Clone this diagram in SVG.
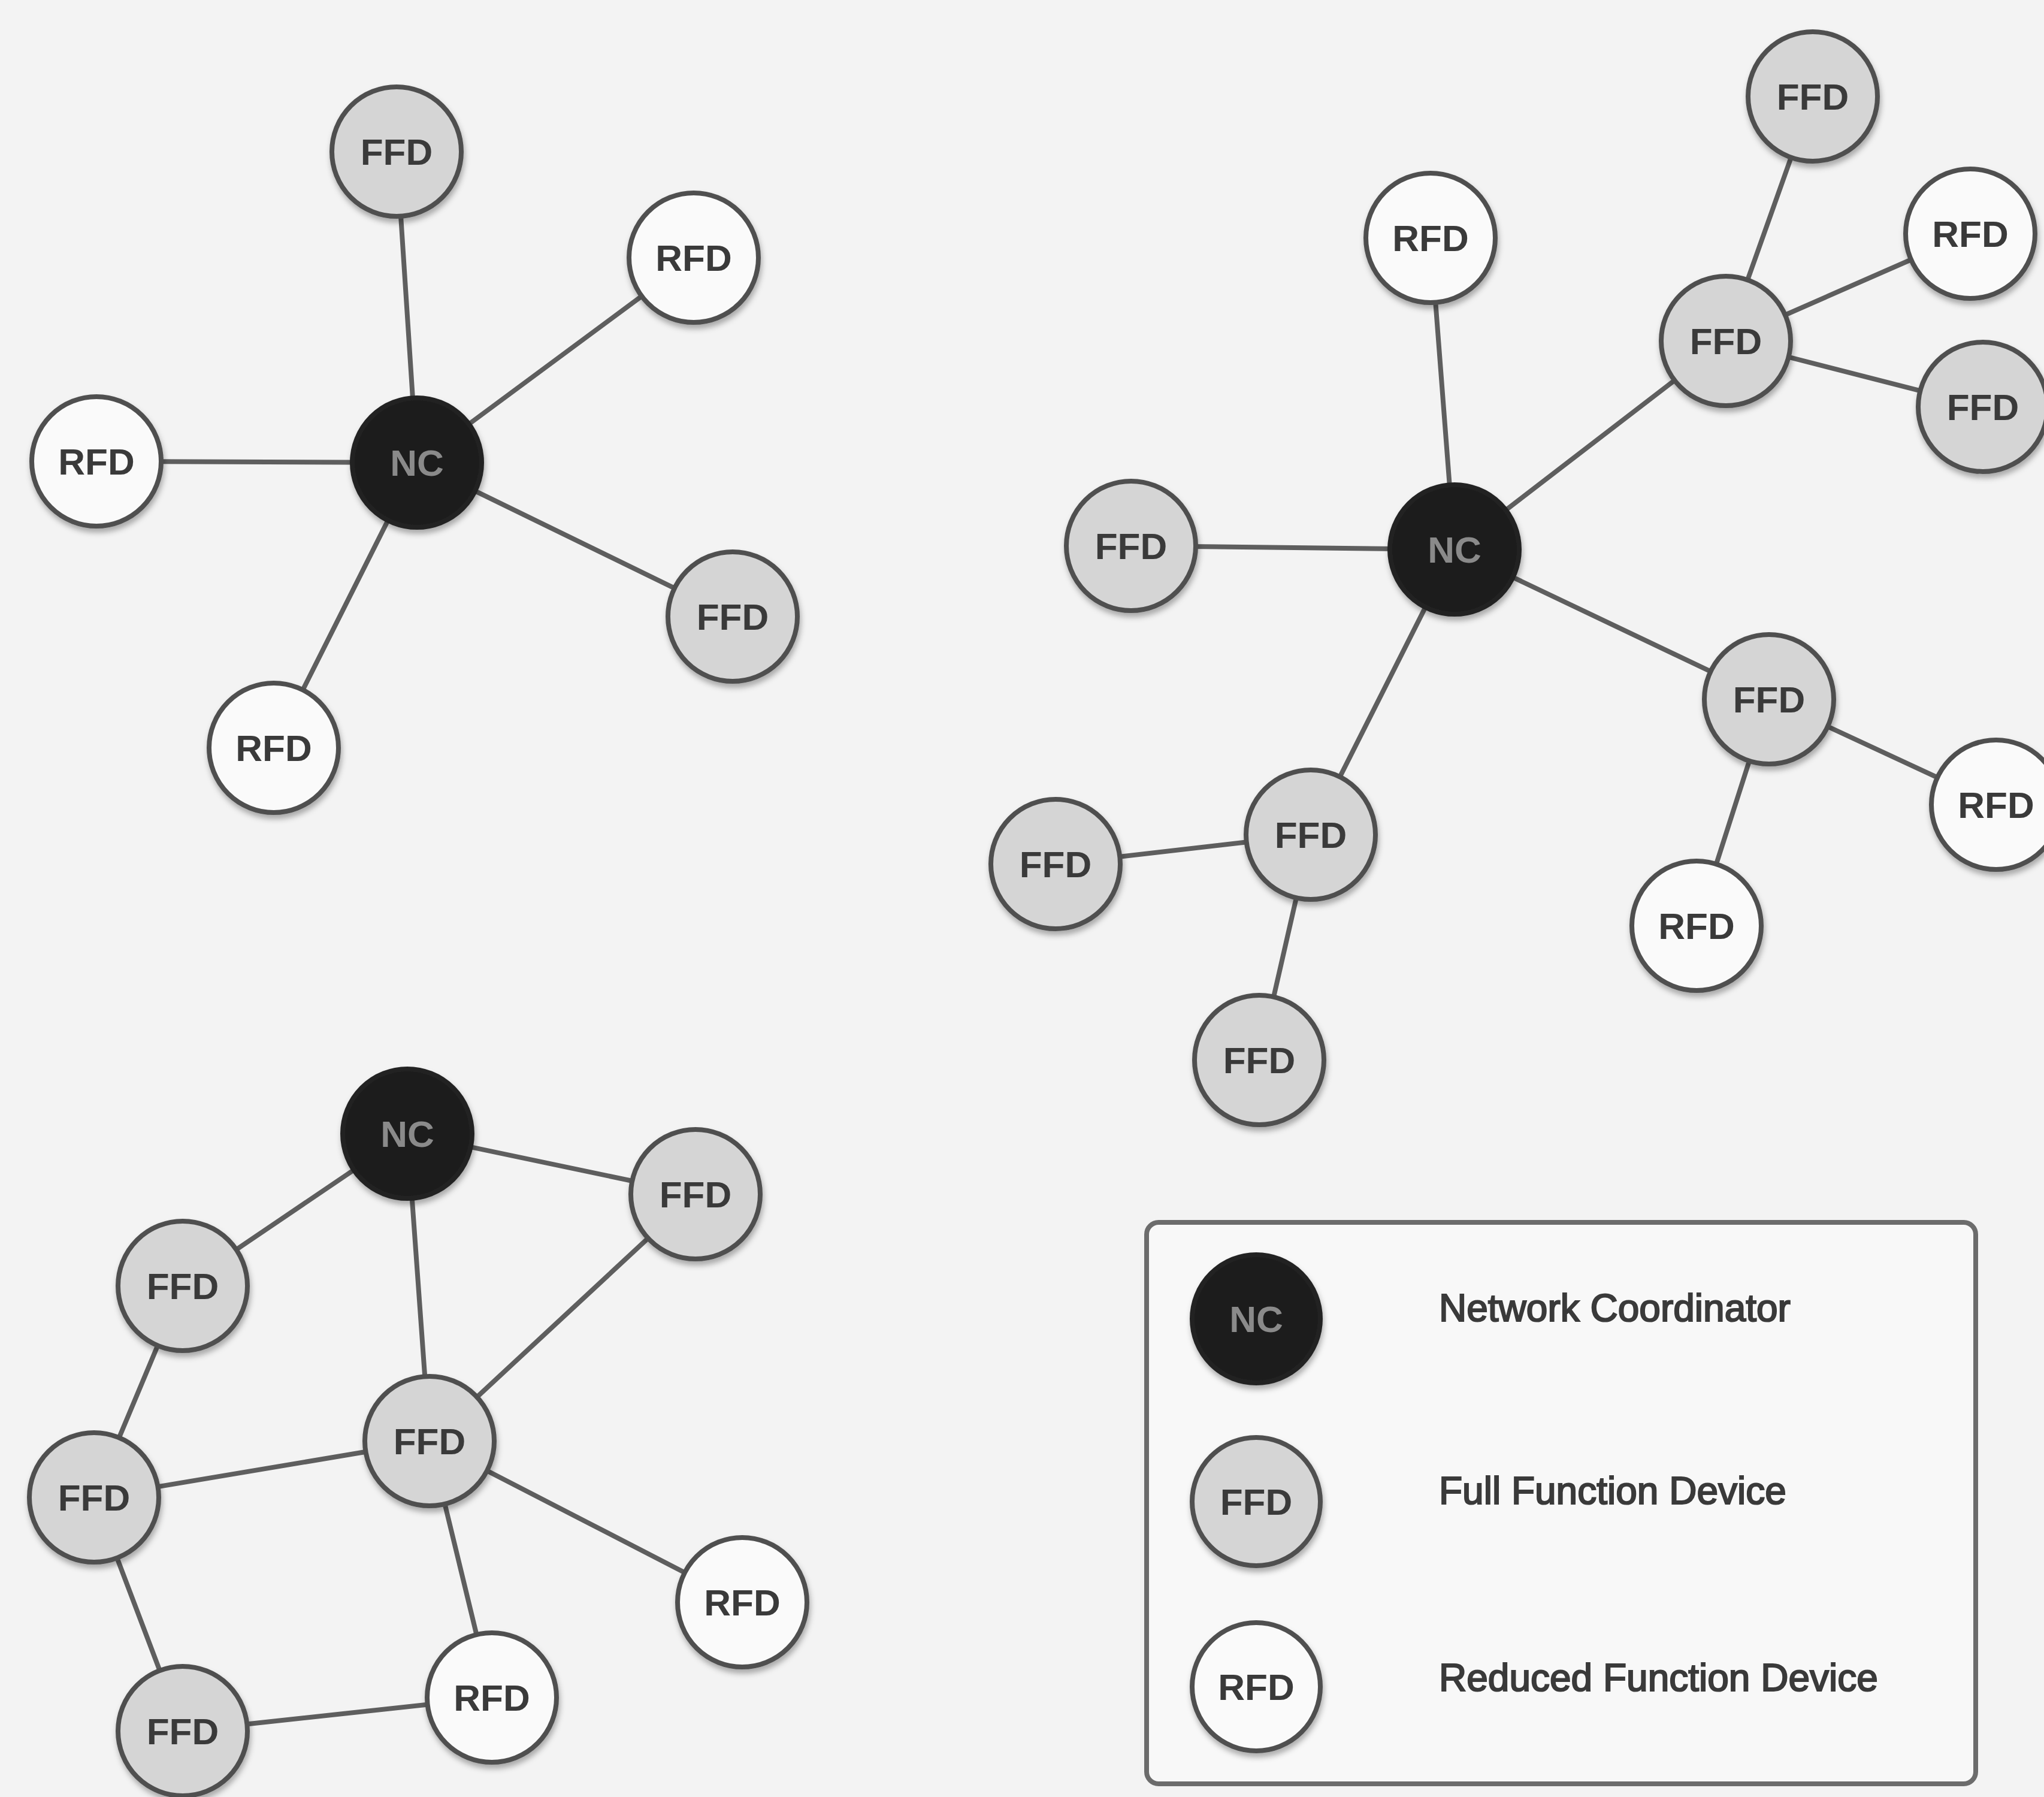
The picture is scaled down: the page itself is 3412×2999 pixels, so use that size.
<svg xmlns="http://www.w3.org/2000/svg" width="3412" height="2999" viewBox="0 0 3412 2999">
  <defs>
    <filter id="shadow" x="-30%" y="-30%" width="160%" height="170%">
      <feDropShadow dx="2" dy="7" stdDeviation="5" flood-color="#000" flood-opacity="0.3"/>
    </filter>
    <style>
      .bg { fill: #f3f3f3; }
      .link { stroke: #5e5e5e; stroke-width: 8; stroke-linecap: round; fill: none; }
      .node circle { stroke: #505050; stroke-width: 8; filter: url(#shadow); }
      .nc circle { fill: #1f1f1f; stroke: #222; }
      .ffd circle { fill: #d5d5d5; }
      .rfd circle { fill: #fafafa; }
      .node text { font-family: "Liberation Sans", Arial, sans-serif; font-size: 62px; font-weight: bold; text-anchor: middle; fill: #3a3a3a; }
      .nc text { fill: #8a8a8a; }
      .legend-box { fill: #f8f8f8; stroke: #6c6c6c; stroke-width: 8; }
      .legend-label { font-family: "Liberation Sans", Arial, sans-serif; font-size: 64px; fill: #3a3a3a; stroke: #3a3a3a; stroke-width: 2.2; }
    </style>
  </defs>

  <rect class="bg" x="0" y="0" width="3412" height="2999"/>

  <!-- links between devices -->
  <g id="connectors">
    <!-- star network -->
    <line class="link" x1="696" y1="772" x2="662" y2="253"/>
    <line class="link" x1="696" y1="772" x2="1158" y2="430"/>
    <line class="link" x1="696" y1="772" x2="161" y2="770"/>
    <line class="link" x1="696" y1="772" x2="1223" y2="1029"/>
    <line class="link" x1="696" y1="772" x2="457" y2="1248"/>
    <!-- cluster tree network -->
    <line class="link" x1="2428" y1="917" x2="2388" y2="397"/>
    <line class="link" x1="2428" y1="917" x2="2881" y2="569"/>
    <line class="link" x1="2428" y1="917" x2="1888" y2="911"/>
    <line class="link" x1="2428" y1="917" x2="2953" y2="1167"/>
    <line class="link" x1="2428" y1="917" x2="2188" y2="1393"/>
    <line class="link" x1="2881" y1="569" x2="3026" y2="161"/>
    <line class="link" x1="2881" y1="569" x2="3289" y2="390"/>
    <line class="link" x1="2881" y1="569" x2="3310" y2="679"/>
    <line class="link" x1="2953" y1="1167" x2="3332" y2="1343"/>
    <line class="link" x1="2953" y1="1167" x2="2832" y2="1545"/>
    <line class="link" x1="2188" y1="1393" x2="1762" y2="1442"/>
    <line class="link" x1="2188" y1="1393" x2="2102" y2="1769"/>
    <!-- mesh network -->
    <line class="link" x1="680" y1="1892" x2="1161" y2="1993"/>
    <line class="link" x1="680" y1="1892" x2="305" y2="2146"/>
    <line class="link" x1="680" y1="1892" x2="717" y2="2405"/>
    <line class="link" x1="1161" y1="1993" x2="717" y2="2405"/>
    <line class="link" x1="305" y1="2146" x2="157" y2="2499"/>
    <line class="link" x1="157" y1="2499" x2="717" y2="2405"/>
    <line class="link" x1="157" y1="2499" x2="305" y2="2889"/>
    <line class="link" x1="717" y1="2405" x2="1239" y2="2674"/>
    <line class="link" x1="717" y1="2405" x2="821" y2="2833"/>
    <line class="link" x1="305" y1="2889" x2="821" y2="2833"/>
  </g>

  <!-- star network -->
  <g id="star-nc" class="node nc"><circle cx="696" cy="772" r="108"/><text x="696" y="794">NC</text></g>
  <g id="star-ffd-1" class="node ffd"><circle cx="662" cy="253" r="108"/><text x="662" y="275">FFD</text></g>
  <g id="star-rfd-1" class="node rfd"><circle cx="1158" cy="430" r="108"/><text x="1158" y="452">RFD</text></g>
  <g id="star-rfd-2" class="node rfd"><circle cx="161" cy="770" r="108"/><text x="161" y="792">RFD</text></g>
  <g id="star-ffd-2" class="node ffd"><circle cx="1223" cy="1029" r="108"/><text x="1223" y="1051">FFD</text></g>
  <g id="star-rfd-3" class="node rfd"><circle cx="457" cy="1248" r="108"/><text x="457" y="1270">RFD</text></g>

  <!-- cluster tree network -->
  <g id="tree-nc" class="node nc"><circle cx="2428" cy="917" r="108"/><text x="2428" y="939">NC</text></g>
  <g id="tree-rfd-1" class="node rfd"><circle cx="2388" cy="397" r="108"/><text x="2388" y="419">RFD</text></g>
  <g id="tree-ffd-hub-1" class="node ffd"><circle cx="2881" cy="569" r="108"/><text x="2881" y="591">FFD</text></g>
  <g id="tree-ffd-1" class="node ffd"><circle cx="3026" cy="161" r="108"/><text x="3026" y="183">FFD</text></g>
  <g id="tree-rfd-2" class="node rfd"><circle cx="3289" cy="390" r="108"/><text x="3289" y="412">RFD</text></g>
  <g id="tree-ffd-2" class="node ffd"><circle cx="3310" cy="679" r="108"/><text x="3310" y="701">FFD</text></g>
  <g id="tree-ffd-3" class="node ffd"><circle cx="1888" cy="911" r="108"/><text x="1888" y="933">FFD</text></g>
  <g id="tree-ffd-hub-2" class="node ffd"><circle cx="2953" cy="1167" r="108"/><text x="2953" y="1189">FFD</text></g>
  <g id="tree-rfd-3" class="node rfd"><circle cx="3332" cy="1343" r="108"/><text x="3332" y="1365">RFD</text></g>
  <g id="tree-rfd-4" class="node rfd"><circle cx="2832" cy="1545" r="108"/><text x="2832" y="1567">RFD</text></g>
  <g id="tree-ffd-hub-3" class="node ffd"><circle cx="2188" cy="1393" r="108"/><text x="2188" y="1415">FFD</text></g>
  <g id="tree-ffd-4" class="node ffd"><circle cx="1762" cy="1442" r="108"/><text x="1762" y="1464">FFD</text></g>
  <g id="tree-ffd-5" class="node ffd"><circle cx="2102" cy="1769" r="108"/><text x="2102" y="1791">FFD</text></g>

  <!-- mesh network -->
  <g id="mesh-nc" class="node nc"><circle cx="680" cy="1892" r="108"/><text x="680" y="1914">NC</text></g>
  <g id="mesh-ffd-1" class="node ffd"><circle cx="1161" cy="1993" r="108"/><text x="1161" y="2015">FFD</text></g>
  <g id="mesh-ffd-2" class="node ffd"><circle cx="305" cy="2146" r="108"/><text x="305" y="2168">FFD</text></g>
  <g id="mesh-ffd-3" class="node ffd"><circle cx="717" cy="2405" r="108"/><text x="717" y="2427">FFD</text></g>
  <g id="mesh-ffd-4" class="node ffd"><circle cx="157" cy="2499" r="108"/><text x="157" y="2521">FFD</text></g>
  <g id="mesh-rfd-1" class="node rfd"><circle cx="1239" cy="2674" r="108"/><text x="1239" y="2696">RFD</text></g>
  <g id="mesh-rfd-2" class="node rfd"><circle cx="821" cy="2833" r="108"/><text x="821" y="2855">RFD</text></g>
  <g id="mesh-ffd-5" class="node ffd"><circle cx="305" cy="2889" r="108"/><text x="305" y="2911">FFD</text></g>

  <!-- legend -->
  <g id="legend">
    <rect class="legend-box" x="1914" y="2040" width="1384" height="937" rx="20" ry="20"/>
    <g id="legend-nc" class="node nc"><circle cx="2097" cy="2201" r="107"/><text x="2097" y="2223">NC</text></g>
    <text class="legend-label" x="2402" y="2205">Network Coordinator</text>
    <g id="legend-ffd" class="node ffd"><circle cx="2097" cy="2506" r="107"/><text x="2097" y="2528">FFD</text></g>
    <text class="legend-label" x="2402" y="2510">Full Function Device</text>
    <g id="legend-rfd" class="node rfd"><circle cx="2097" cy="2815" r="107"/><text x="2097" y="2837">RFD</text></g>
    <text class="legend-label" x="2402" y="2822">Reduced Function Device</text>
  </g>
</svg>
